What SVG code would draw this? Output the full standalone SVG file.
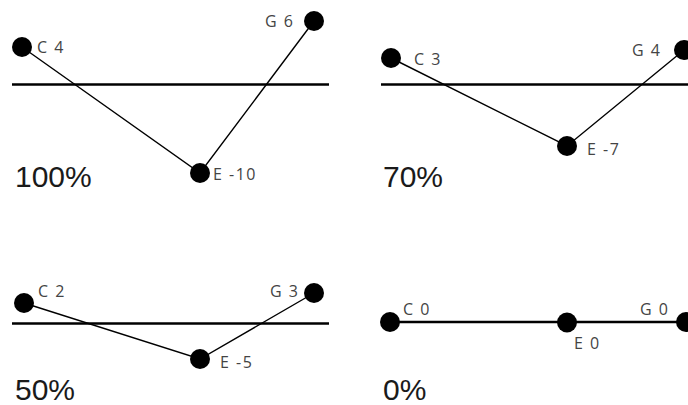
<svg xmlns="http://www.w3.org/2000/svg" width="688" height="405" viewBox="0 0 688 405">
<style>
.bg{fill:#fff}
.axis{stroke:#000;stroke-width:2.5}
.edge{stroke:#000;stroke-width:1.4;fill:none}
.dot{fill:#000}
.lbl{font-family:"Open Sans","Liberation Sans",sans-serif;font-size:16px;fill:#444;letter-spacing:1.5px}
.pct{font-family:"Liberation Sans",Arial,sans-serif;font-size:30px;fill:#1a1a1a}
</style>
<rect class="bg" width="688" height="405"/>
<g id="connectors">
<line class="axis" x1="12" y1="84.5" x2="329" y2="84.5"/>
<line class="axis" x1="381" y1="84.5" x2="688" y2="84.5"/>
<line class="axis" x1="12" y1="323.5" x2="329" y2="323.5"/>
<line class="axis" x1="390" y1="322" x2="688" y2="322"/>
<polyline class="edge" points="22,47 200,173 314,21"/>
<polyline class="edge" points="391,58 567,146 684,50"/>
<polyline class="edge" points="24,303 200,359 314,293"/>
</g>
<g id="panel100">
<g id="c4"><circle class="dot" cx="22" cy="47" r="10"/><text class="lbl" x="37" y="53">C 4</text></g>
<g id="e-10"><circle class="dot" cx="200" cy="173" r="10"/><text class="lbl" x="213" y="180">E -10</text></g>
<g id="g6"><circle class="dot" cx="314" cy="21" r="10"/><text class="lbl" x="265" y="27">G 6</text></g>
<text class="pct" x="15" y="187">100%</text>
</g>
<g id="panel70">
<g id="c3"><circle class="dot" cx="391" cy="58" r="10"/><text class="lbl" x="414" y="65">C 3</text></g>
<g id="e-7"><circle class="dot" cx="567" cy="146" r="10"/><text class="lbl" x="587" y="155">E -7</text></g>
<g id="g4"><circle class="dot" cx="684" cy="50" r="10"/><text class="lbl" x="632" y="56">G 4</text></g>
<text class="pct" x="383" y="187">70%</text>
</g>
<g id="panel50">
<g id="c2"><circle class="dot" cx="24" cy="303" r="10"/><text class="lbl" x="38" y="297">C 2</text></g>
<g id="e-5"><circle class="dot" cx="200" cy="359" r="10"/><text class="lbl" x="220" y="368">E -5</text></g>
<g id="g3"><circle class="dot" cx="314" cy="293" r="10"/><text class="lbl" x="270" y="297">G 3</text></g>
<text class="pct" x="15" y="400">50%</text>
</g>
<g id="panel0">
<g id="c0"><circle class="dot" cx="390" cy="322" r="10"/><text class="lbl" x="403" y="315">C 0</text></g>
<g id="e0"><circle class="dot" cx="567" cy="322.5" r="10"/><text class="lbl" x="574" y="349">E 0</text></g>
<g id="g0"><circle class="dot" cx="686" cy="322" r="10"/><text class="lbl" x="640" y="315">G 0</text></g>
<text class="pct" x="383" y="400">0%</text>
</g>
</svg>
